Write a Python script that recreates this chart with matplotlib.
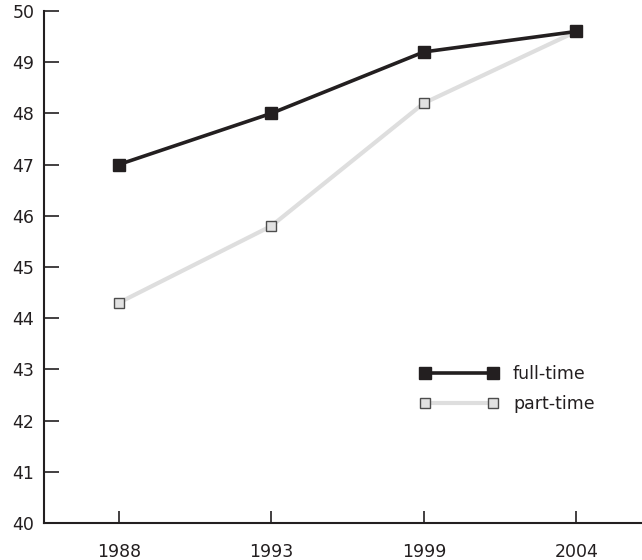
import matplotlib
matplotlib.use('Agg')
import matplotlib.pyplot as plt
import numpy as np

# values
years = ['1988', '1993', '1999', '2004']
full_time = [47.0, 48.0, 49.2, 49.6]
part_time = [44.3, 45.8, 48.2, 49.6]
y_ticks = list(range(40, 51))

plt.rcParams['font.family'] = ['DejaVu Sans']
dark = '#231f20'

fig = plt.figure(figsize=(6.42, 5.6), dpi=100)
ax = fig.add_axes([0.0685, 0.0661, 0.9315, 0.9143])

x = np.arange(len(years))
ax.plot(x, part_time, color='#dedede', lw=3, marker='s', ms=7,
        mfc='#e2e2e2', mec='#4d4d4d', mew=1.0, label='part-time', zorder=2)
ax.plot(x, full_time, color=dark, lw=2.6, marker='s', ms=8,
        mfc=dark, mec=dark, label='full-time', zorder=3)

ax.set_xlim(-0.49, 3.43)
ax.set_ylim(40, 50)
ax.set_xticks(x)
ax.set_xticklabels(years)
ax.set_yticks(y_ticks)

for s in ['top', 'right']:
    ax.spines[s].set_visible(False)
for s in ['left', 'bottom']:
    ax.spines[s].set_color(dark)
    ax.spines[s].set_linewidth(1.5)

ax.tick_params(axis='y', direction='in', length=11, width=1.2, color=dark,
               pad=7, labelsize=12.5, labelcolor=dark)
ax.tick_params(axis='x', direction='in', length=9, width=1.2, color=dark,
               pad=14.5, labelsize=12.5, labelcolor=dark)

handles, labels = ax.get_legend_handles_labels()
leg = ax.legend(handles[::-1], labels[::-1], loc='upper left',
                bbox_to_anchor=(411.5 / 642, 1 - 356 / 560),
                bbox_transform=fig.transFigure, frameon=False,
                numpoints=2, handlelength=4.5, handletextpad=0.84,
                borderpad=0, labelspacing=0.72, fontsize=12.5)
for t in leg.get_texts():
    t.set_color(dark)

fig.savefig('out.png', dpi=100)
